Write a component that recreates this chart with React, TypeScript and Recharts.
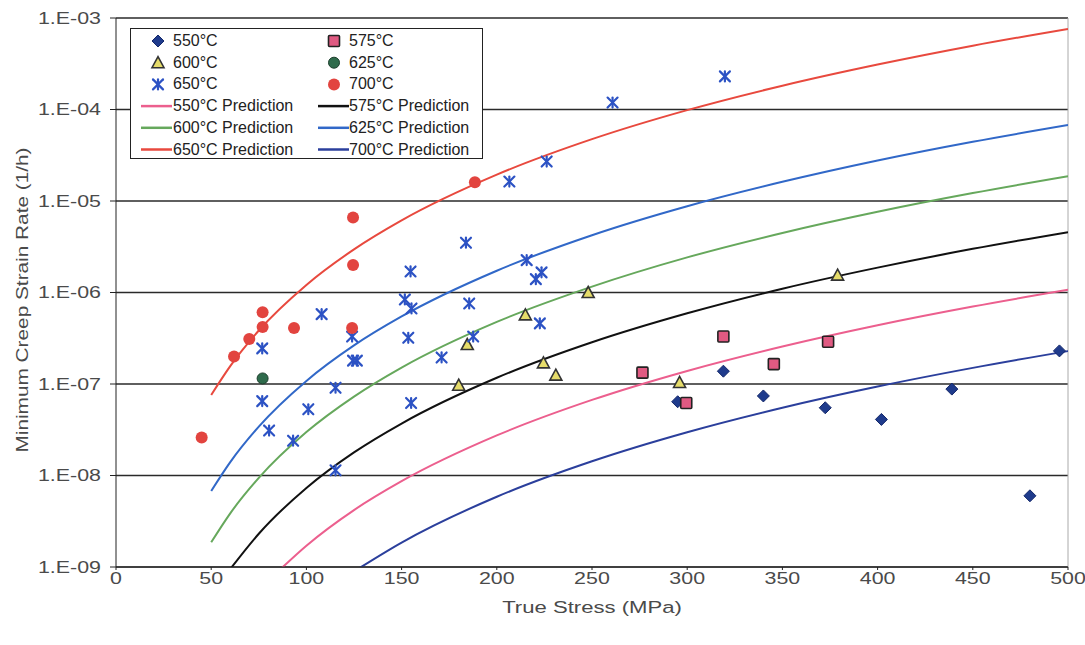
import { ComposedChart, Line, Scatter, XAxis, YAxis, CartesianGrid, ReferenceLine } from 'recharts'

// axis ticks
const xTicks = [0, 50, 100, 150, 200, 250, 300, 350, 400, 450, 500]
const yTicks = [1e-9, 1e-8, 1e-7, 1e-6, 1e-5, 1e-4, 1e-3]
const yTickLabels = ['1.E-09', '1.E-08', '1.E-07', '1.E-06', '1.E-05', '1.E-04', '1.E-03']

// measured points [true stress MPa, min creep strain rate 1/h]
const pts550: [number, number][] = [
  [295, 6.4e-8], [319, 1.38e-7], [340, 7.4e-8], [372.5, 5.5e-8],
  [402, 4.1e-8], [439, 8.8e-8], [480, 6.0e-9], [495.5, 2.3e-7],
]
const pts575: [number, number][] = [
  [276.5, 1.33e-7], [299.5, 6.2e-8], [319, 3.3e-7], [345.5, 1.65e-7], [374, 2.9e-7],
]
const pts600: [number, number][] = [
  [180, 9.7e-8], [184.5, 2.7e-7], [215, 5.7e-7], [224.5, 1.7e-7],
  [231, 1.25e-7], [248, 1.0e-6], [296, 1.04e-7], [379, 1.55e-6],
]
const pts625: [number, number][] = [[77, 1.15e-7]]
const pts650: [number, number][] = [
  [76.8, 2.45e-7], [76.8, 6.5e-8], [80.4, 3.1e-8], [93, 2.4e-8], [101, 5.3e-8],
  [108, 5.8e-7], [115.3, 9.1e-8], [115.3, 1.14e-8], [124, 3.3e-7], [124.5, 1.8e-7],
  [126.5, 1.8e-7], [151.7, 8.4e-7], [153.5, 3.2e-7], [154.7, 1.7e-6], [155, 6.2e-8],
  [155.2, 6.7e-7], [171, 1.95e-7], [183.8, 3.5e-6], [185.5, 7.6e-7], [187.6, 3.3e-7],
  [206.6, 1.63e-5], [215.7, 2.26e-6], [220.5, 1.4e-6], [222.6, 4.6e-7], [223.5, 1.66e-6],
  [226.2, 2.7e-5], [260.8, 1.19e-4], [319.8, 2.3e-4],
]
const pts700: [number, number][] = [
  [45, 2.6e-8], [62, 2.0e-7], [70, 3.1e-7], [77, 4.2e-7], [77, 6.1e-7],
  [93.5, 4.1e-7], [124, 4.1e-7], [124.5, 2.0e-6], [124.5, 6.6e-6], [188.5, 1.6e-5],
]

// prediction curves
const pred550: [number, number][] = [
  [85, 8.9e-10], [100, 1.71e-9], [125, 4.19e-9], [150, 8.67e-9], [200, 2.74e-8],
  [250, 6.7e-8], [300, 1.39e-7], [350, 2.57e-7], [400, 4.39e-7], [450, 7.03e-7], [500, 1.07e-6],
]
const pred575: [number, number][] = [
  [60, 9.5e-10], [75, 2.31e-9], [100, 7.31e-9], [125, 1.79e-8], [150, 3.7e-8], [200, 1.17e-7],
  [250, 2.86e-7], [300, 5.93e-7], [350, 1.1e-6], [400, 1.87e-6], [450, 3.0e-6], [500, 4.57e-6],
]
const pred600: [number, number][] = [
  [50, 1.86e-9], [60, 3.86e-9], [75, 9.42e-9], [100, 2.98e-8], [125, 7.28e-8], [150, 1.51e-7],
  [200, 4.77e-7], [250, 1.16e-6], [300, 2.42e-6], [350, 4.47e-6], [400, 7.62e-6], [450, 1.22e-5], [500, 1.86e-5],
]
const pred625: [number, number][] = [
  [50, 6.76e-9], [60, 1.4e-8], [75, 3.42e-8], [100, 1.08e-7], [125, 2.64e-7], [150, 5.47e-7],
  [200, 1.73e-6], [250, 4.23e-6], [300, 8.77e-6], [350, 1.62e-5], [400, 2.77e-5], [450, 4.44e-5], [500, 6.76e-5],
]
const pred650: [number, number][] = [
  [50, 7.59e-8], [60, 1.57e-7], [75, 3.84e-7], [100, 1.21e-6], [125, 2.96e-6], [150, 6.14e-6],
  [200, 1.94e-5], [250, 4.74e-5], [300, 9.84e-5], [350, 1.82e-4], [400, 3.1e-4], [450, 4.98e-4], [500, 7.59e-4],
]
const pred700: [number, number][] = [
  [125, 8.95e-10], [150, 1.85e-9], [200, 5.86e-9], [250, 1.43e-8], [300, 2.97e-8],
  [350, 5.5e-8], [400, 9.38e-8], [450, 1.5e-7], [500, 2.29e-7],
]

const toXY = (pts: [number, number][]) => pts.map(([x, y]) => ({ x, y }))

const C = {
  d550: '#1f3b8c',
  sq575: '#e05a82',
  tri600: '#e6dc6a',
  c625: '#2f6b4c',
  x650: '#2c52c4',
  c700: '#e2443f',
  p550: '#ec5f8e',
  p575: '#111111',
  p600: '#66a85c',
  p625: '#3168c8',
  p650: '#e8493e',
  p700: '#2b3f9c',
}

const TEXT = '#4a4a4a'
const STRETCH = 1.26 // the original lettering is noticeably wide

const Diamond = ({ cx, cy }: any) => (
  <polygon points={`${cx},${cy - 6} ${cx + 6},${cy} ${cx},${cy + 6} ${cx - 6},${cy}`} fill={C.d550} stroke="#14286a" strokeWidth={1} />
)
const Square = ({ cx, cy }: any) => (
  <rect x={cx - 5.5} y={cy - 5.5} width={11} height={11} rx={1} fill={C.sq575} stroke="#222" strokeWidth={1.6} />
)
const Triangle = ({ cx, cy }: any) => (
  <polygon points={`${cx},${cy - 6} ${cx + 6},${cy + 5} ${cx - 6},${cy + 5}`} fill={C.tri600} stroke="#333" strokeWidth={1.6} />
)
const Dot625 = ({ cx, cy }: any) => <circle cx={cx} cy={cy} r={5.5} fill={C.c625} stroke="#1c3e2c" strokeWidth={1} />
const Star = ({ cx, cy }: any) => (
  <g stroke={C.x650} strokeWidth={2.2} strokeLinecap="round">
    <line x1={cx - 5} y1={cy - 5} x2={cx + 5} y2={cy + 5} />
    <line x1={cx - 5} y1={cy + 5} x2={cx + 5} y2={cy - 5} />
    <line x1={cx} y1={cy - 5} x2={cx} y2={cy + 5} />
  </g>
)
const Dot700 = ({ cx, cy }: any) => <circle cx={cx} cy={cy} r={6} fill={C.c700} />

const YTick = ({ x, y, payload }: any) => {
  const i = yTicks.findIndex((t) => Math.abs(Math.log10(t) - Math.log10(payload.value)) < 0.01)
  return (
    <text x={x} y={y} dy={6} textAnchor="end" fontSize={17} fill={TEXT}
      transform={`translate(${x} ${y}) scale(${STRETCH} 1) translate(${-x} ${-y})`}>
      {yTickLabels[i] ?? ''}
    </text>
  )
}
const XTick = ({ x, y, payload }: any) => (
  <text x={x} y={y} dy={13} textAnchor="middle" fontSize={17} fill={TEXT}
    transform={`translate(${x} ${y}) scale(${STRETCH} 1) translate(${-x} ${-y})`}>
    {payload.value}
  </text>
)
const XLabel = () => (
  <text x={0} y={0} textAnchor="middle" dominantBaseline="central" fontSize={17} fill={TEXT}
    transform={`translate(592 607) scale(1.3 1)`}>
    True Stress (MPa)
  </text>
)
const YLabel = () => (
  <text x={0} y={0} textAnchor="middle" dominantBaseline="central" fontSize={16} fill={TEXT}
    transform={`translate(22 300) rotate(-90) scale(1.3 1)`}>
    Minimum Creep Strain Rate (1/h)
  </text>
)

const legendMarkers = [
  { label: '550°C', Shape: Diamond },
  { label: '575°C', Shape: Square },
  { label: '600°C', Shape: Triangle },
  { label: '625°C', Shape: Dot625 },
  { label: '650°C', Shape: Star },
  { label: '700°C', Shape: Dot700 },
]
const legendLines = [
  { label: '550°C Prediction', color: C.p550 },
  { label: '575°C Prediction', color: C.p575 },
  { label: '600°C Prediction', color: C.p600 },
  { label: '625°C Prediction', color: C.p625 },
  { label: '650°C Prediction', color: C.p650 },
  { label: '700°C Prediction', color: C.p700 },
]

function ChartLegend() {
  const rowY = (i: number) => 12 + i * 21.7
  return (
    <div
      style={{
        position: 'absolute', left: 130, top: 28, width: 351, height: 129,
        border: '1.5px solid #222', background: '#fff', fontSize: 16, color: '#222',
      }}
    >
      <svg width={351} height={129} style={{ position: 'absolute', left: 0, top: 0 }}>
        {legendMarkers.map((m, i) => {
          const col = i % 2
          const row = Math.floor(i / 2)
          const { Shape } = m
          return <Shape key={m.label} cx={col ? 203 : 27} cy={rowY(row)} />
        })}
        {legendLines.map((l, i) => {
          const col = i % 2
          const row = 3 + Math.floor(i / 2)
          const x0 = col ? 187 : 10
          return <line key={l.label} x1={x0} x2={x0 + 31} y1={rowY(row)} y2={rowY(row)} stroke={l.color} strokeWidth={2.5} />
        })}
      </svg>
      {[...legendMarkers.map((m) => m.label), ...legendLines.map((l) => l.label)].map((label, i) => {
        const col = i % 2
        const row = Math.floor(i / 2)
        return (
          <div key={label} style={{ position: 'absolute', left: col ? 218 : 42, top: rowY(row) - 10, lineHeight: '20px', whiteSpace: 'nowrap' }}>
            {label}
          </div>
        )
      })}
    </div>
  )
}

export default function App() {
  return (
    <div style={{ position: 'absolute', left: 0, top: 0, width: 1085, height: 645, background: '#fff', fontFamily: '"Liberation Sans", Arial, sans-serif' }}>
      <ComposedChart width={1085} height={645} margin={{ top: 18, right: 17, bottom: 0, left: 0 }}>
        <CartesianGrid vertical={false} stroke="#2a2a2a" strokeWidth={1.6} />
        <XAxis
          dataKey="x"
          type="number"
          domain={[0, 500]}
          ticks={xTicks}
          allowDataOverflow
          height={78}
          stroke="#222"
          tickSize={3}
          tickMargin={1}
          tick={<XTick />}
          label={<XLabel />}
        />
        <YAxis
          dataKey="y"
          type="number"
          scale="log"
          domain={[1e-9, 1e-3]}
          ticks={yTicks}
          allowDataOverflow
          width={116}
          stroke="#222"
          tickSize={6}
          tickMargin={9}
          tick={<YTick />}
          label={<YLabel />}
        />
        <ReferenceLine x={500} stroke="#aaa" strokeWidth={1} />
        <Line data={toXY(pred550)} dataKey="y" type="monotone" stroke={C.p550} strokeWidth={2} dot={false} isAnimationActive={false} />
        <Line data={toXY(pred575)} dataKey="y" type="monotone" stroke={C.p575} strokeWidth={2} dot={false} isAnimationActive={false} />
        <Line data={toXY(pred600)} dataKey="y" type="monotone" stroke={C.p600} strokeWidth={2} dot={false} isAnimationActive={false} />
        <Line data={toXY(pred625)} dataKey="y" type="monotone" stroke={C.p625} strokeWidth={2} dot={false} isAnimationActive={false} />
        <Line data={toXY(pred650)} dataKey="y" type="monotone" stroke={C.p650} strokeWidth={2} dot={false} isAnimationActive={false} />
        <Line data={toXY(pred700)} dataKey="y" type="monotone" stroke={C.p700} strokeWidth={2} dot={false} isAnimationActive={false} />
        <Scatter data={toXY(pts550)} dataKey="y" shape={Diamond} isAnimationActive={false} />
        <Scatter data={toXY(pts575)} dataKey="y" shape={Square} isAnimationActive={false} />
        <Scatter data={toXY(pts600)} dataKey="y" shape={Triangle} isAnimationActive={false} />
        <Scatter data={toXY(pts625)} dataKey="y" shape={Dot625} isAnimationActive={false} />
        <Scatter data={toXY(pts650)} dataKey="y" shape={Star} isAnimationActive={false} />
        <Scatter data={toXY(pts700)} dataKey="y" shape={Dot700} isAnimationActive={false} />
      </ComposedChart>
      <ChartLegend />
    </div>
  )
}
